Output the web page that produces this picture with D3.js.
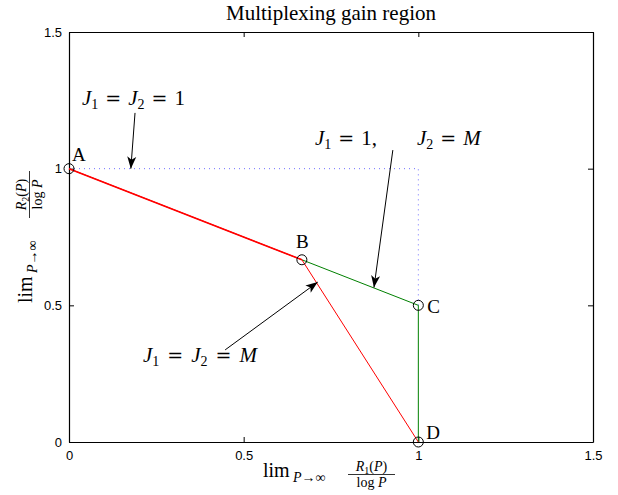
<!DOCTYPE html>
<html>
<head>
<meta charset="utf-8">
<script src="https://cdn.jsdelivr.net/npm/d3@7"></script>
<style>
  body { margin: 0; background: #fff; }
  svg { display: block; }
  .tick text { font-family: 'Liberation Sans', Arial, sans-serif; font-size: 13px; fill: #000; }
  .serif { font-family: 'Liberation Serif', 'Times New Roman', serif; fill: #000; }
</style>
</head>
<body>
<div class="gain-chart"></div>
<script>
'use strict';

// corner points of the region
const pointNames = ['A', 'B', 'C', 'D'];
const pointX = [0, 2 / 3, 1, 1];
const pointY = [1, 2 / 3, 0.5, 0];

// red boundary: J1 = J2 = M
const redX = [0, 2 / 3, 1];
const redY = [1, 2 / 3, 0];
// green boundary: J1 = 1, J2 = M
const greenX = [2 / 3, 1, 1];
const greenY = [2 / 3, 0.5, 0];
// blue dotted: J1 = J2 = 1
const blueX = [0, 1, 1];
const blueY = [1, 1, 0.5];

const tickValues = [0, 0.5, 1, 1.5];
const tickLabels = ['0', '0.5', '1', '1.5'];

const margin = {top: 32, right: 25, bottom: 53, left: 69};
const fullWidth = 618, fullHeight = 495;
const width = fullWidth - margin.left - margin.right;
const height = fullHeight - margin.top - margin.bottom;

const svg = d3.select('.gain-chart')
    .append('svg')
    .attr('width', fullWidth)
    .attr('height', fullHeight);

svg.append('defs').append('marker')
    .attr('id', 'head')
    .attr('viewBox', '0 0 12 10')
    .attr('refX', 12)
    .attr('refY', 5)
    .attr('markerWidth', 12)
    .attr('markerHeight', 10)
    .attr('markerUnits', 'userSpaceOnUse')
    .attr('orient', 'auto')
    .append('path')
    .attr('d', 'M0,0.5 L12,5 L0,9.5 L3,5 Z')
    .attr('fill', '#000');

const chart = svg.append('g')
    .attr('transform', 'translate(' + margin.left + ',' + margin.top + ')');

const x = d3.scaleLinear().domain([0, 1.5]).range([0, width]);
const y = d3.scaleLinear().domain([0, 1.5]).range([height, 0]);

const fmt = (d) => tickLabels[tickValues.indexOf(d)];

// axes, MATLAB style with inward ticks on all sides
chart.append('g')
    .attr('transform', 'translate(0,' + height + ')')
    .call(d3.axisBottom(x).tickValues(tickValues).tickFormat(fmt).tickSizeInner(-5).tickSizeOuter(0).tickPadding(9));
chart.append('g')
    .call(d3.axisLeft(y).tickValues(tickValues).tickFormat(fmt).tickSizeInner(-5).tickSizeOuter(0).tickPadding(7));
chart.append('g')
    .call(d3.axisTop(x).tickValues(tickValues).tickFormat('').tickSizeInner(-5).tickSizeOuter(0));
chart.append('g')
    .attr('transform', 'translate(' + width + ',0)')
    .call(d3.axisRight(y).tickValues(tickValues).tickFormat('').tickSizeInner(-5).tickSizeOuter(0));
chart.selectAll('.domain').attr('stroke', '#000').attr('stroke-width', 1.2);

const line = d3.line().x((d) => x(d[0])).y((d) => y(d[1]));

chart.append('path')
    .datum(d3.zip(blueX, blueY))
    .attr('d', line)
    .attr('fill', 'none')
    .attr('stroke', '#7070ff')
    .attr('stroke-width', 1)
    .attr('stroke-dasharray', '1,4');

chart.append('path')
    .datum(d3.zip(greenX, greenY))
    .attr('d', line)
    .attr('fill', 'none')
    .attr('stroke', '#008000')
    .attr('stroke-width', 1);

chart.append('path')
    .datum(d3.zip(redX, redY))
    .attr('d', line)
    .attr('fill', 'none')
    .attr('stroke', '#ff0000')
    .attr('stroke-width', 1);
// A-B looks heavier in the original (segments drawn twice)
chart.append('path')
    .datum(d3.zip(redX.slice(0, 2), redY.slice(0, 2)))
    .attr('d', line)
    .attr('fill', 'none')
    .attr('stroke', '#ff0000')
    .attr('stroke-width', 1.6);

const pts = pointNames.map((n, i) => ({name: n, x: pointX[i], y: pointY[i]}));
chart.selectAll('.pt')
    .data(pts)
    .enter().append('circle')
    .attr('class', 'pt')
    .attr('cx', (d) => x(d.x))
    .attr('cy', (d) => y(d.y))
    .attr('r', 5)
    .attr('fill', 'none')
    .attr('stroke', '#000')
    .attr('stroke-width', 1);

const labelOffset = {A: [3, -8], B: [-6, -12], C: [9, 8], D: [8, -3]};
chart.selectAll('.ptlabel')
    .data(pts)
    .enter().append('text')
    .attr('class', 'serif')
    .attr('x', (d) => x(d.x) + labelOffset[d.name][0])
    .attr('y', (d) => y(d.y) + labelOffset[d.name][1])
    .attr('font-size', 19)
    .text((d) => d.name);

// title
svg.append('text')
    .attr('class', 'serif')
    .attr('x', 331)
    .attr('y', 20)
    .attr('text-anchor', 'middle')
    .attr('font-size', 21)
    .text('Multiplexing gain region');

// TeX-like annotation text: parts are [text, kind, gapBefore]
function mathLabel(px, py, parts) {
    const t = svg.append('text').attr('class', 'serif').attr('font-size', 21)
        .attr('x', px).attr('y', py);
    let lowered = false;
    parts.forEach((p) => {
        const s = t.append('tspan').text(p[0]);
        const kind = p[1];
        if (kind === 'it') s.attr('font-style', 'italic');
        if (kind === 'eq') s.attr('font-family', "'DejaVu Serif', serif").attr('font-size', 19);
        if (kind === 'sub') { s.attr('font-size', 14).attr('dy', 4); lowered = true; }
        else if (lowered) { s.attr('dy', -4); lowered = false; }
        if (p[2]) s.attr('dx', p[2]);
    });
}

const g = 7;
mathLabel(82, 105, [
    ['J', 'it'], ['1', 'sub'], ['=', 'eq', g], ['J', 'it', g], ['2', 'sub'], ['=', 'eq', g], ['1', '', g]
]);
mathLabel(315, 145, [
    ['J', 'it'], ['1', 'sub'], ['=', 'eq', g], ['1,', '', g], ['J', 'it', 40], ['2', 'sub'],
    ['=', 'eq', g], ['M', 'it', g]
]);
mathLabel(143, 362, [
    ['J', 'it'], ['1', 'sub'], ['=', 'eq', g + 1], ['J', 'it', g + 1], ['2', 'sub'], ['=', 'eq', g + 1], ['M', 'it', g + 1]
]);

// arrows: [from data point, to data point]
const arrows = [
    [[0.189, 1.204], [0.177, 1.0]],
    [[0.927, 1.068], [0.873, 0.565]],
    [[0.447, 0.337], [0.712, 0.585]]
];
chart.append('g')
    .selectAll('line')
    .data(arrows)
    .enter().append('line')
    .attr('x1', (d) => x(d[0][0]))
    .attr('y1', (d) => y(d[0][1]))
    .attr('x2', (d) => x(d[1][0]))
    .attr('y2', (d) => y(d[1][1]))
    .attr('stroke', '#000')
    .attr('stroke-width', 1)
    .attr('marker-end', 'url(#head)');

// axis labels: lim_{P->inf} R_i(P) / log P
function limLabel(transform, idx) {
    const l = svg.append('g').attr('class', 'serif').attr('transform', transform);
    l.append('text').attr('font-size', 20).text('lim');
    l.append('text').attr('x', 30).attr('y', 5).attr('font-size', 14)
        .html('<tspan font-style="italic">P</tspan>→∞');
    const cx = 108.5;
    l.append('text').attr('x', cx).attr('y', -6).attr('font-size', 14).attr('text-anchor', 'middle')
        .html('<tspan font-style="italic">R</tspan><tspan font-size="10" dy="3">' + idx +
            '</tspan><tspan dy="-3">(</tspan><tspan font-style="italic">P</tspan>)');
    l.append('line').attr('x1', cx - 23.5).attr('x2', cx + 23.5).attr('y1', -2.5).attr('y2', -2.5)
        .attr('stroke', '#000').attr('stroke-width', 0.8);
    l.append('text').attr('x', cx).attr('y', 10).attr('font-size', 14).attr('text-anchor', 'middle')
        .html('log <tspan font-style="italic">P</tspan>');
}
limLabel('translate(263,477)', 1);
limLabel('translate(32,303) rotate(-90)', 2);
</script>
</body>
</html>
